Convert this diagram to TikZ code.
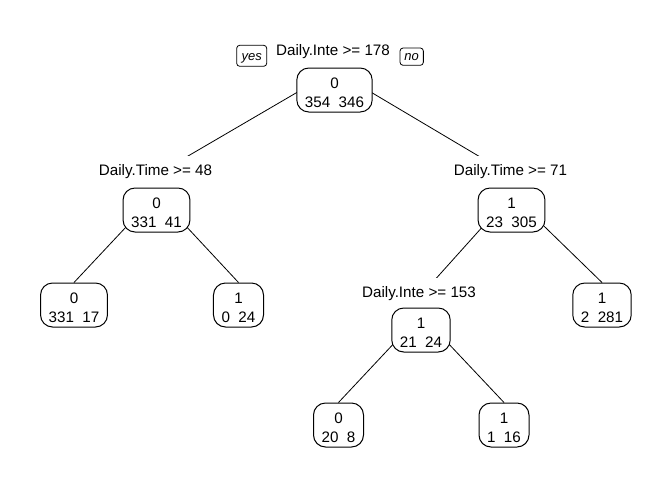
\documentclass[tikz,border=0pt]{standalone}
\usepackage{fontspec}
\setmainfont{Liberation Sans}
\usetikzlibrary{calc}
\pgfdeclarelayer{back}
\pgfdeclarelayer{bg}
\pgfsetlayers{back,bg,main}
\begin{document}
\begin{tikzpicture}[x=1pt,y=-1pt,
  tnode/.style={draw, line width=1pt, rounded corners=12pt, fill=white, align=center,
    font=\fontsize{15.2}{19}\selectfont, inner xsep=8.1pt, inner ysep=0pt,
    minimum height=44pt, text height=34pt, text depth=0pt},
  split/.style={fill=white, font=\fontsize{15.2}{18}\selectfont, inner xsep=2pt,
    inner ysep=8pt, anchor=base},
  yn/.style={draw, line width=0.8pt, rounded corners=3pt,
    font=\fontsize{13}{15}\selectfont\itshape, inner sep=0pt, anchor=base},
  branch/.style={line width=0.8pt}]
\begin{pgfonlayer}{back}
\useasboundingbox[fill=white] (0,0) rectangle (672,480);
\end{pgfonlayer}

% split labels
\node[split] (l1) at (333,55.3) {Daily.Inte >= 178};
\node[split] (l2) at (155.5,175) {Daily.Time >= 48};
\node[split] (l3) at (510.5,175) {Daily.Time >= 71};
\node[split] (l6) at (419,297.5) {Daily.Inte >= 153};

% yes / no
\node[yn, minimum width=30pt, text height=15.4pt, text depth=5.6pt] (yes) at (251.7,60.7) {yes};
\node[yn, minimum width=23.3pt, text height=12.7pt, text depth=4.6pt] (no) at (411.7,60.7) {no};

% tree nodes
\node[tnode] (n1) at (334.5,90) {0\\354~~346};
\node[tnode] (n2) at (156.5,210) {0\\331~~41};
\node[tnode] (n3) at (511.5,210) {1\\23~~305};
\node[tnode] (n4) at (74,305) {0\\331~~17};
\node[tnode] (n5) at (238.5,305) {1\\0~~24};
\node[tnode] (n6) at (421,330) {1\\21~~24};
\node[tnode] (n7) at (602,305) {1\\2~~281};
\node[tnode] (n8) at (338.5,425) {0\\20~~8};
\node[tnode] (n9) at (504,425) {1\\1~~16};

% branches
\begin{pgfonlayer}{bg}
\draw[branch] ($(n1.north)+(0,3)$) -- (l2.base);
\draw[branch] ($(n1.north)+(0,3)$) -- (l3.base);
\draw[branch] ($(n2.north)+(0,7)$) -- (n4.north);
\draw[branch] ($(n2.north)+(0,7)$) -- (n5.north);
\draw[branch] ($(n3.north)+(0,7)$) -- (l6.base);
\draw[branch] ($(n3.north)+(0,7)$) -- (n7.north);
\draw[branch] ($(n6.north)+(0,7)$) -- (n8.north);
\draw[branch] ($(n6.north)+(0,7)$) -- (n9.north);
\end{pgfonlayer}
\end{tikzpicture}
\end{document}
